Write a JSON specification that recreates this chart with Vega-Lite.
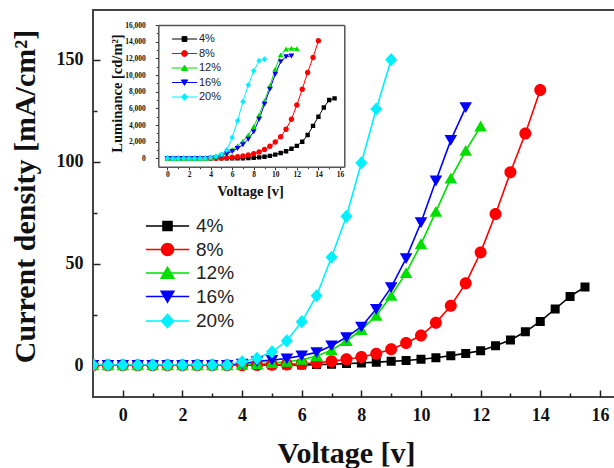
{
  "$schema": "https://vega.github.io/schema/vega-lite/v6.json",
  "width": 523,
  "height": 387,
  "autosize": {"type": "none"},
  "padding": {"left": 93, "top": 10, "right": 0, "bottom": 71},
  "background": "white",
  "config": {"view": {"stroke": "#444", "strokeWidth": 2}, "axis": {"grid": false}},
  "datasets": {
    "main": [
      {"s":"4%","v":-1,"j":0.2},{"s":"4%","v":-0.5,"j":0.2},{"s":"4%","v":0,"j":0.2},{"s":"4%","v":0.5,"j":0.2},{"s":"4%","v":1,"j":0.2},{"s":"4%","v":1.5,"j":0.2},{"s":"4%","v":2,"j":0.2},{"s":"4%","v":2.5,"j":0.2},{"s":"4%","v":3,"j":0.2},{"s":"4%","v":3.5,"j":0.2},{"s":"4%","v":4,"j":0.2},{"s":"4%","v":4.5,"j":0.2},{"s":"4%","v":5,"j":0.2},{"s":"4%","v":5.5,"j":0.2},{"s":"4%","v":6,"j":0.2},{"s":"4%","v":6.5,"j":0.4},{"s":"4%","v":7,"j":0.6},{"s":"4%","v":7.5,"j":0.9},{"s":"4%","v":8,"j":1.2},{"s":"4%","v":8.5,"j":1.6},{"s":"4%","v":9,"j":2.0},{"s":"4%","v":9.5,"j":2.4},{"s":"4%","v":10,"j":3.0},{"s":"4%","v":10.5,"j":3.8},{"s":"4%","v":11,"j":4.8},{"s":"4%","v":11.5,"j":5.9},{"s":"4%","v":12,"j":7.2},{"s":"4%","v":12.5,"j":9.7},{"s":"4%","v":13,"j":12.5},{"s":"4%","v":13.5,"j":16.5},{"s":"4%","v":14,"j":21.6},{"s":"4%","v":14.5,"j":27.7},{"s":"4%","v":15,"j":33.9},{"s":"4%","v":15.5,"j":38.5},
      {"s":"8%","v":-1,"j":0.1},{"s":"8%","v":-0.5,"j":0.1},{"s":"8%","v":0,"j":0.1},{"s":"8%","v":0.5,"j":0.1},{"s":"8%","v":1,"j":0.1},{"s":"8%","v":1.5,"j":0.1},{"s":"8%","v":2,"j":0.1},{"s":"8%","v":2.5,"j":0.1},{"s":"8%","v":3,"j":0.1},{"s":"8%","v":3.5,"j":0.1},{"s":"8%","v":4,"j":0.1},{"s":"8%","v":4.5,"j":0.2},{"s":"8%","v":5,"j":0.3},{"s":"8%","v":5.5,"j":0.5},{"s":"8%","v":6,"j":0.8},{"s":"8%","v":6.5,"j":1.3},{"s":"8%","v":7,"j":2.0},{"s":"8%","v":7.5,"j":3.0},{"s":"8%","v":8,"j":4.1},{"s":"8%","v":8.5,"j":5.7},{"s":"8%","v":9,"j":7.9},{"s":"8%","v":9.5,"j":11.0},{"s":"8%","v":10,"j":14.7},{"s":"8%","v":10.5,"j":20.9},{"s":"8%","v":11,"j":29.3},{"s":"8%","v":11.5,"j":40.3},{"s":"8%","v":12,"j":55.5},{"s":"8%","v":12.5,"j":74.3},{"s":"8%","v":13,"j":94.8},{"s":"8%","v":13.5,"j":113.9},{"s":"8%","v":14,"j":135.2},
      {"s":"12%","v":-1,"j":0.1},{"s":"12%","v":-0.5,"j":0.1},{"s":"12%","v":0,"j":0.1},{"s":"12%","v":0.5,"j":0.1},{"s":"12%","v":1,"j":0.1},{"s":"12%","v":1.5,"j":0.1},{"s":"12%","v":2,"j":0.1},{"s":"12%","v":2.5,"j":0.1},{"s":"12%","v":3,"j":0.1},{"s":"12%","v":3.5,"j":0.1},{"s":"12%","v":4,"j":0.4},{"s":"12%","v":4.5,"j":0.8},{"s":"12%","v":5,"j":1.2},{"s":"12%","v":5.5,"j":1.8},{"s":"12%","v":6,"j":2.8},{"s":"12%","v":6.5,"j":4.6},{"s":"12%","v":7,"j":7.5},{"s":"12%","v":7.5,"j":12.0},{"s":"12%","v":8,"j":17.5},{"s":"12%","v":8.5,"j":24.4},{"s":"12%","v":9,"j":34.2},{"s":"12%","v":9.5,"j":45.4},{"s":"12%","v":10,"j":59.6},{"s":"12%","v":10.5,"j":75.5},{"s":"12%","v":11,"j":91.8},{"s":"12%","v":11.5,"j":105.4},{"s":"12%","v":12,"j":117.4},
      {"s":"16%","v":-1,"j":0.2},{"s":"16%","v":-0.5,"j":0.2},{"s":"16%","v":0,"j":0.2},{"s":"16%","v":0.5,"j":0.2},{"s":"16%","v":1,"j":0.2},{"s":"16%","v":1.5,"j":0.2},{"s":"16%","v":2,"j":0.2},{"s":"16%","v":2.5,"j":0.2},{"s":"16%","v":3,"j":0.2},{"s":"16%","v":3.5,"j":0.2},{"s":"16%","v":4,"j":0.8},{"s":"16%","v":4.5,"j":2.0},{"s":"16%","v":5,"j":2.6},{"s":"16%","v":5.5,"j":3.4},{"s":"16%","v":6,"j":4.8},{"s":"16%","v":6.5,"j":6.4},{"s":"16%","v":7,"j":9.7},{"s":"16%","v":7.5,"j":13.8},{"s":"16%","v":8,"j":19.0},{"s":"16%","v":8.5,"j":27.7},{"s":"16%","v":9,"j":38.3},{"s":"16%","v":9.5,"j":52.6},{"s":"16%","v":10,"j":70.2},{"s":"16%","v":10.5,"j":90.7},{"s":"16%","v":11,"j":110.6},{"s":"16%","v":11.5,"j":126.7},
      {"s":"20%","v":-1,"j":0.3},{"s":"20%","v":-0.5,"j":0.3},{"s":"20%","v":0,"j":0.3},{"s":"20%","v":0.5,"j":0.3},{"s":"20%","v":1,"j":0.3},{"s":"20%","v":1.5,"j":0.3},{"s":"20%","v":2,"j":0.3},{"s":"20%","v":2.5,"j":0.3},{"s":"20%","v":3,"j":0.3},{"s":"20%","v":3.5,"j":0.3},{"s":"20%","v":4,"j":1.8},{"s":"20%","v":4.5,"j":3.5},{"s":"20%","v":5,"j":6.7},{"s":"20%","v":5.5,"j":12.1},{"s":"20%","v":6,"j":21.5},{"s":"20%","v":6.5,"j":34.2},{"s":"20%","v":7,"j":53.1},{"s":"20%","v":7.5,"j":73.2},{"s":"20%","v":8,"j":99.4},{"s":"20%","v":8.5,"j":125.9},{"s":"20%","v":9,"j":150.1}
    ],
    "inset": [
      {"s":"4%","v":0,"L":0},{"s":"4%","v":0.5,"L":0},{"s":"4%","v":1,"L":0},{"s":"4%","v":1.5,"L":0},{"s":"4%","v":2,"L":0},{"s":"4%","v":2.5,"L":0},{"s":"4%","v":3,"L":0},{"s":"4%","v":3.5,"L":0},{"s":"4%","v":4,"L":0},{"s":"4%","v":4.5,"L":0},{"s":"4%","v":5,"L":0},{"s":"4%","v":5.5,"L":0},{"s":"4%","v":6,"L":0},{"s":"4%","v":6.5,"L":10},{"s":"4%","v":7,"L":20},{"s":"4%","v":7.5,"L":40},{"s":"4%","v":8,"L":70},{"s":"4%","v":8.5,"L":120},{"s":"4%","v":9,"L":200},{"s":"4%","v":9.5,"L":300},{"s":"4%","v":10,"L":450},{"s":"4%","v":10.5,"L":650},{"s":"4%","v":11,"L":850},{"s":"4%","v":11.5,"L":1150},{"s":"4%","v":12,"L":1500},{"s":"4%","v":12.5,"L":2000},{"s":"4%","v":13,"L":2800},{"s":"4%","v":13.5,"L":3900},{"s":"4%","v":14,"L":5000},{"s":"4%","v":14.5,"L":6100},{"s":"4%","v":15,"L":7000},{"s":"4%","v":15.5,"L":7200},
      {"s":"8%","v":0,"L":0},{"s":"8%","v":0.5,"L":0},{"s":"8%","v":1,"L":0},{"s":"8%","v":1.5,"L":0},{"s":"8%","v":2,"L":0},{"s":"8%","v":2.5,"L":0},{"s":"8%","v":3,"L":0},{"s":"8%","v":3.5,"L":0},{"s":"8%","v":4,"L":0},{"s":"8%","v":4.5,"L":10},{"s":"8%","v":5,"L":40},{"s":"8%","v":5.5,"L":80},{"s":"8%","v":6,"L":130},{"s":"8%","v":6.5,"L":200},{"s":"8%","v":7,"L":290},{"s":"8%","v":7.5,"L":400},{"s":"8%","v":8,"L":550},{"s":"8%","v":8.5,"L":760},{"s":"8%","v":9,"L":1050},{"s":"8%","v":9.5,"L":1450},{"s":"8%","v":10,"L":1950},{"s":"8%","v":10.5,"L":2600},{"s":"8%","v":11,"L":3500},{"s":"8%","v":11.5,"L":4700},{"s":"8%","v":12,"L":6400},{"s":"8%","v":12.5,"L":8300},{"s":"8%","v":13,"L":10300},{"s":"8%","v":13.5,"L":12100},{"s":"8%","v":14,"L":14100},
      {"s":"12%","v":0,"L":0},{"s":"12%","v":0.5,"L":0},{"s":"12%","v":1,"L":0},{"s":"12%","v":1.5,"L":0},{"s":"12%","v":2,"L":0},{"s":"12%","v":2.5,"L":0},{"s":"12%","v":3,"L":0},{"s":"12%","v":3.5,"L":0},{"s":"12%","v":4,"L":30},{"s":"12%","v":4.5,"L":150},{"s":"12%","v":5,"L":400},{"s":"12%","v":5.5,"L":700},{"s":"12%","v":6,"L":1050},{"s":"12%","v":6.5,"L":1500},{"s":"12%","v":7,"L":2050},{"s":"12%","v":7.5,"L":2800},{"s":"12%","v":8,"L":3800},{"s":"12%","v":8.5,"L":5200},{"s":"12%","v":9,"L":6900},{"s":"12%","v":9.5,"L":8700},{"s":"12%","v":10,"L":10700},{"s":"12%","v":10.5,"L":12400},{"s":"12%","v":11,"L":13100},{"s":"12%","v":11.5,"L":13200},{"s":"12%","v":12,"L":13150},
      {"s":"16%","v":0,"L":0},{"s":"16%","v":0.5,"L":0},{"s":"16%","v":1,"L":0},{"s":"16%","v":1.5,"L":0},{"s":"16%","v":2,"L":0},{"s":"16%","v":2.5,"L":0},{"s":"16%","v":3,"L":0},{"s":"16%","v":3.5,"L":0},{"s":"16%","v":4,"L":20},{"s":"16%","v":4.5,"L":100},{"s":"16%","v":5,"L":300},{"s":"16%","v":5.5,"L":550},{"s":"16%","v":6,"L":850},{"s":"16%","v":6.5,"L":1200},{"s":"16%","v":7,"L":1650},{"s":"16%","v":7.5,"L":2300},{"s":"16%","v":8,"L":3200},{"s":"16%","v":8.5,"L":4700},{"s":"16%","v":9,"L":6500},{"s":"16%","v":9.5,"L":8300},{"s":"16%","v":10,"L":10100},{"s":"16%","v":10.5,"L":11600},{"s":"16%","v":11,"L":12200},{"s":"16%","v":11.5,"L":12300},
      {"s":"20%","v":0,"L":0},{"s":"20%","v":0.5,"L":0},{"s":"20%","v":1,"L":0},{"s":"20%","v":1.5,"L":0},{"s":"20%","v":2,"L":0},{"s":"20%","v":2.5,"L":0},{"s":"20%","v":3,"L":0},{"s":"20%","v":3.5,"L":20},{"s":"20%","v":4,"L":100},{"s":"20%","v":4.5,"L":250},{"s":"20%","v":5,"L":500},{"s":"20%","v":5.5,"L":1000},{"s":"20%","v":6,"L":2500},{"s":"20%","v":6.5,"L":4500},{"s":"20%","v":7,"L":6800},{"s":"20%","v":7.5,"L":8800},{"s":"20%","v":8,"L":10500},{"s":"20%","v":8.5,"L":11700},{"s":"20%","v":9,"L":11900}
    ]
  },
  "layer": [
    {
      "data": {"name": "main"},
      "encoding": {
        "x": {"field": "v", "type": "quantitative",
          "scale": {"domain": [-1, 16.54], "nice": false, "zero": false},
          "axis": {"orient": "bottom", "values": [0,1,2,3,4,5,6,7,8,9,10,11,12,13,14,15,16],
            "labelExpr": "datum.value % 2 === 0 ? datum.label : ''",
            "tickSize": {"condition": {"test": "datum.value % 2 === 0", "value": -7}, "value": -4},
            "tickColor": "#222", "tickWidth": 1.5, "domain": false, "grid": false,
            "labelFont": "Liberation Serif", "labelFontWeight": "bold", "labelFontSize": 18, "labelColor": "#111",
            "labelPadding": 16, "labelFlush": false, "labelOverlap": false,
            "title": "Voltage [v]", "titleFont": "Liberation Serif", "titleFontWeight": "bold", "titleFontSize": 30, "titleColor": "#111",
            "titleX": 253, "titleY": 65, "titleBaseline": "alphabetic", "titleAlign": "center"}},
        "y": {"field": "j", "type": "quantitative",
          "scale": {"domain": [-15.5, 174.5], "nice": false, "zero": false},
          "axis": {"orient": "left", "values": [0,25,50,75,100,125,150],
            "labelExpr": "datum.value % 50 === 0 ? datum.label : ''",
            "tickSize": {"condition": {"test": "datum.value % 50 === 0", "value": -7}, "value": -4},
            "tickColor": "#222", "tickWidth": 1.5, "domain": false, "grid": false,
            "labelFont": "Liberation Serif", "labelFontWeight": "bold", "labelFontSize": 18, "labelColor": "#111",
            "labelPadding": 17, "labelFlush": false, "labelOverlap": false,
            "title": "Current density [mA/cm²]", "titleFont": "Liberation Serif", "titleFontWeight": "bold", "titleFontSize": 30, "titleColor": "#111",
            "titleX": -59, "titleY": 186, "titleBaseline": "alphabetic", "titleAlign": "center", "titleAngle": 270}},
        "color": {"field": "s", "type": "nominal",
          "scale": {"domain": ["4%","8%","12%","16%","20%"], "range": ["#000000","#ff0000","#00e000","#0000ff","#00f0ff"]},
          "legend": {"orient": "none", "legendX": 65, "legendY": 206.5, "title": null, "padding": 0,
            "labelFont": "Liberation Sans", "labelFontSize": 19, "labelColor": "#222", "labelOffset": 19, "rowPadding": 3.5,
            "symbolSize": 144, "symbolStrokeWidth": 1.6,
            "encode": {"symbols": {"update": {
              "fill": {"value": {"expr": "['#000000','#ff0000','#00e000','#0000ff','#00f0ff'][indexof(['4%','8%','12%','16%','20%'], datum.value)]"}},
              "stroke": {"value": {"expr": "['#000000','#ff0000','#00e000','#0000ff','#00f0ff'][indexof(['4%','8%','12%','16%','20%'], datum.value)]"}},
              "strokeWidth": {"value": 1.6}, "size": {"value": 144}, "opacity": {"value": 1}}}}}}
      },
      "layer": [
        {"mark": {"type": "line", "strokeWidth": 1.6, "clip": true}},
        {"mark": {"type": "point", "filled": true, "opacity": 1, "size": 144, "strokeWidth": 0, "clip": true},
         "encoding": {"shape": {"field": "s", "type": "nominal",
           "scale": {"domain": ["4%","8%","12%","16%","20%"], "range": ["M-3.6,0H3.6M-0.75,-0.75H0.75V0.75H-0.75Z","M-3.6,0H3.6M1,0A1,1,0,1,1,-1,0A1,1,0,1,1,1,0Z","M-3.6,0H3.6M0,-0.95L1.05,0.85H-1.05Z","M-3.6,0H3.6M0,0.95L1.05,-0.85H-1.05Z","M-3.6,0H3.6M0,-1.1L1,0L0,1.1L-1,0Z"]},
           "legend": null}}}
      ]
    },
    {
      "data": {"name": "inset"},
      "encoding": {
        "x": {"field": "v", "type": "quantitative",
          "scale": {"domain": [-0.85, 16.4], "range": [65.3, 251.3], "nice": false, "zero": false},
          "axis": {"orient": "bottom", "offset": -230.3, "values": [0,1,2,3,4,5,6,7,8,9,10,11,12,13,14,15,16],
            "labelExpr": "datum.value % 2 === 0 ? datum.label : ''",
            "tickSize": {"condition": {"test": "datum.value % 2 === 0", "value": 3}, "value": 2},
            "tickColor": "#333", "tickWidth": 1, "domain": true, "domainColor": "#555", "domainWidth": 1.5, "grid": false,
            "labelFont": "Liberation Serif", "labelFontWeight": "bold", "labelFontSize": 7.5, "labelColor": "#111",
            "labelPadding": 1, "labelFlush": false, "labelOverlap": false,
            "title": "Voltage [v]", "titleFont": "Liberation Serif", "titleFontWeight": "bold", "titleFontSize": 14.5, "titleColor": "#111",
            "titleX": 157, "titleY": 28.3, "titleBaseline": "alphabetic", "titleAlign": "center"}},
        "y": {"field": "L", "type": "quantitative",
          "scale": {"domain": [-1000, 16000], "range": [156.7, 15], "nice": false, "zero": false},
          "axis": {"orient": "left", "offset": -65.3, "values": [0,1000,2000,3000,4000,5000,6000,7000,8000,9000,10000,11000,12000,13000,14000,15000,16000],
            "format": ",d",
            "labelExpr": "datum.value % 2000 === 0 ? datum.label : ''",
            "tickSize": {"condition": {"test": "datum.value % 2000 === 0", "value": 3}, "value": 2},
            "tickColor": "#333", "tickWidth": 1, "domain": true, "domainColor": "#555", "domainWidth": 1.5, "grid": false,
            "labelFont": "Liberation Serif", "labelFontWeight": "bold", "labelFontSize": 7.5, "labelColor": "#111",
            "labelPadding": 10, "labelFlush": false, "labelOverlap": false,
            "title": "Luminance [cd/m²]", "titleFont": "Liberation Serif", "titleFontWeight": "bold", "titleFontSize": 14.5, "titleColor": "#111",
            "titleX": -36.8, "titleY": 83, "titleBaseline": "alphabetic", "titleAlign": "center", "titleAngle": 270}},
        "color": {"field": "s", "type": "nominal",
          "scale": {"domain": ["4%","8%","12%","16%","20%"], "range": ["#000000","#ff0000","#00e000","#0000ff","#00f0ff"]},
          "legend": {"orient": "none", "legendX": 86, "legendY": 23.5, "title": null, "padding": 0,
            "labelFont": "Liberation Sans", "labelFontSize": 11, "labelColor": "#222", "labelOffset": 9, "rowPadding": 2.5,
            "symbolSize": 36, "symbolStrokeWidth": 1,
            "encode": {"symbols": {"update": {
              "fill": {"value": {"expr": "['#000000','#ff0000','#00e000','#0000ff','#00f0ff'][indexof(['4%','8%','12%','16%','20%'], datum.value)]"}},
              "stroke": {"value": {"expr": "['#000000','#ff0000','#00e000','#0000ff','#00f0ff'][indexof(['4%','8%','12%','16%','20%'], datum.value)]"}},
              "strokeWidth": {"value": 1}, "size": {"value": 36}, "opacity": {"value": 1}}}}}}
      },
      "layer": [
        {"mark": {"type": "line", "strokeWidth": 1}},
        {"mark": {"type": "point", "filled": true, "opacity": 1, "size": 30, "strokeWidth": 0},
         "encoding": {"shape": {"field": "s", "type": "nominal",
           "scale": {"domain": ["4%","8%","12%","16%","20%"], "range": ["M-4.2,0H4.2M-0.8,-0.8H0.8V0.8H-0.8Z","M-4.2,0H4.2M1,0A1,1,0,1,1,-1,0A1,1,0,1,1,1,0Z","M-4.2,0H4.2M0,-0.95L1.05,0.85H-1.05Z","M-4.2,0H4.2M0,0.95L1.05,-0.85H-1.05Z","M-4.2,0H4.2M0,-1.1L1,0L0,1.1L-1,0Z"]},
           "legend": null}}}
      ]
    },
    {
      "data": {"name": "inset"},
      "mark": {"type": "point", "opacity": 0},
      "encoding": {
        "x": {"field": "v", "type": "quantitative",
          "scale": {"domain": [-0.85, 16.4], "range": [65.3, 251.3], "nice": false, "zero": false},
          "axis": {"orient": "top", "offset": -15, "labels": false, "ticks": false, "domain": true, "domainColor": "#555", "domainWidth": 1.5, "grid": false, "title": null}},
        "y": {"field": "L", "type": "quantitative",
          "scale": {"domain": [-1000, 16000], "range": [156.7, 15], "nice": false, "zero": false},
          "axis": {"orient": "right", "offset": -271.7, "labels": false, "ticks": false, "domain": true, "domainColor": "#555", "domainWidth": 1.5, "grid": false, "title": null}}
      }
    }
  ],
  "resolve": {
    "scale": {"x": "independent", "y": "independent", "color": "independent", "shape": "independent"},
    "axis": {"x": "independent", "y": "independent"},
    "legend": {"color": "independent", "shape": "independent"}
  }
}
